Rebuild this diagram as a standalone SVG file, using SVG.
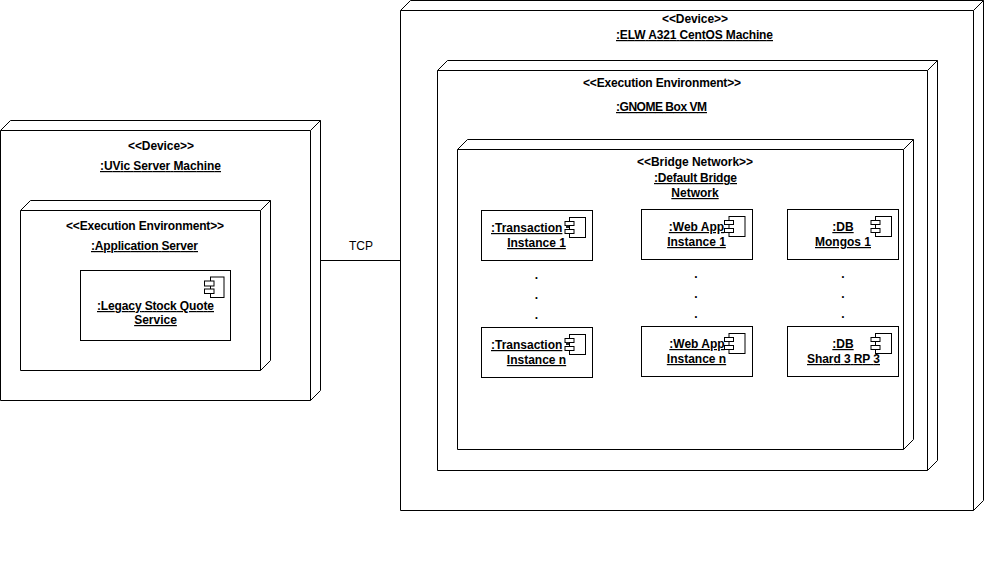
<svg xmlns="http://www.w3.org/2000/svg" xmlns:xlink="http://www.w3.org/1999/xlink" width="992" height="561" viewBox="0 0 992 561">
<style>
.s{fill:#fff;stroke:#000;stroke-width:1}
.l{fill:none;stroke:#000;stroke-width:1}
text{font-family:"Liberation Sans",Arial,sans-serif;font-size:12px;fill:#000;text-anchor:middle}
.b{font-weight:700}
.u{font-weight:700;text-decoration:underline}
.st{text-anchor:start}
</style>
<defs>
<g id="icon"><rect class="s" x="4.500" y="0" width="16" height="20"/><rect class="s" x="0" y="4" width="9" height="4"/><rect class="s" x="0" y="12" width="9" height="4"/></g>
<g id="icon-wide"><rect class="s" x="6" y="0" width="13.500" height="20.500"/><rect class="s" x="0" y="4" width="9.500" height="5"/><rect class="s" x="0" y="12" width="9.500" height="4.500"/></g>
</defs>
<rect width="992" height="561" fill="#fff"/>
<g id="connectors"><path class="l" d="M320.500 260.500H400.500"/><text x="361" y="250">TCP</text></g>
<g id="device-uvic">
<path class="s" d="M0.500 130.500L10.500 120.500H320.500V390.500L310.500 400.500H0.500Z"/><path class="l" d="M0.500 130.500H310.500V400.500M310.500 130.500L320.500 120.500"/>
<text class="b" x="161" y="150" textLength="66">&lt;&lt;Device&gt;&gt;</text><text class="u" x="160.500" y="170" textLength="121">:UVic Server Machine</text>
</g>
<g id="env-app">
<path class="s" d="M20.500 210.500L30.500 200.500H270.500V360.500L260.500 370.500H20.500Z"/><path class="l" d="M20.500 210.500H260.500V370.500M260.500 210.500L270.500 200.500"/>
<text class="b" x="145" y="230" textLength="158">&lt;&lt;Execution Environment&gt;&gt;</text><text class="u" x="144.500" y="250" textLength="107">:Application Server</text>
</g>
<g id="comp-legacy">
<rect class="s" x="80.500" y="270.500" width="150" height="70"/><use xlink:href="#icon-wide" x="204.500" y="277"/>
<text class="u" x="155.500" y="310" textLength="117">:Legacy Stock Quote</text><text class="u" x="155.500" y="324">Service</text>
</g>
<g id="device-elw">
<path class="s" d="M400.500 10.500L410.500 0.500H983.500V500.500L973.500 510.500H400.500Z"/><path class="l" d="M400.500 10.500H973.500V510.500M973.500 10.500L983.500 0.500"/>
<text class="b" x="695" y="23" textLength="66">&lt;&lt;Device&gt;&gt;</text><text class="u" x="694.500" y="39" textLength="157">:ELW A321 CentOS Machine</text>
</g>
<g id="env-gnome">
<path class="s" d="M437.500 70.500L447.500 60.500H937.500V460.500L927.500 470.500H437.500Z"/><path class="l" d="M437.500 70.500H927.500V470.500M927.500 70.500L937.500 60.500"/>
<text class="b" x="662" y="87" textLength="158">&lt;&lt;Execution Environment&gt;&gt;</text><text class="u" x="661.500" y="111" textLength="91">:GNOME Box VM</text>
</g>
<g id="bridge">
<path class="s" d="M457.500 149.500L467.500 139.500H913.500V439.500L903.500 449.500H457.500Z"/><path class="l" d="M457.500 149.500H903.500V449.500M903.500 149.500L913.500 139.500"/>
<text class="b" x="695" y="166" textLength="116">&lt;&lt;Bridge Network&gt;&gt;</text><text class="u" x="695.500" y="182" textLength="83">:Default Bridge</text><text class="u" x="695" y="197">Network</text>
<g class="b"><text x="536.500" y="279">.</text><text x="536.500" y="299">.</text><text x="536.500" y="319">.</text><text x="696" y="278">.</text><text x="696" y="298">.</text><text x="696" y="318">.</text><text x="843" y="278">.</text><text x="843" y="298">.</text><text x="843" y="318">.</text></g>
</g>
<g id="comp-tx1"><rect class="s" x="481.500" y="210.500" width="111" height="50"/><text class="u st" x="491" y="232">:Transaction</text><text class="u" x="536.500" y="247">Instance 1</text><use xlink:href="#icon" x="565" y="217.500"/><rect x="566" y="225" width="3" height="3" fill="#222"/></g>
<g id="comp-txn"><rect class="s" x="481.500" y="327.500" width="111" height="50"/><text class="u st" x="491" y="349">:Transaction</text><text class="u" x="536.500" y="364">Instance n</text><use xlink:href="#icon" x="565" y="334.500"/><rect x="566" y="342" width="3" height="3" fill="#222"/></g>
<g id="comp-web1"><rect class="s" x="641.500" y="209.500" width="111" height="50"/><text class="u" x="696.500" y="231">:Web App</text><text class="u" x="696.500" y="246">Instance 1</text><use xlink:href="#icon" x="724.500" y="216.500"/></g>
<g id="comp-webn"><rect class="s" x="641.500" y="326.500" width="111" height="50"/><text class="u" x="697" y="348">:Web App</text><text class="u" x="696.500" y="363">Instance n</text><use xlink:href="#icon" x="724.500" y="333.500"/></g>
<g id="comp-db1"><rect class="s" x="787.500" y="209.500" width="111" height="50"/><text class="u" x="843" y="231">:DB</text><text class="u" x="843" y="246">Mongos 1</text><use xlink:href="#icon" x="871" y="216.500"/></g>
<g id="comp-dbn"><rect class="s" x="787.500" y="326.500" width="111" height="50"/><text class="u" x="843" y="348">:DB</text><text class="u" x="843.500" y="363" textLength="73">Shard 3 RP 3</text><use xlink:href="#icon" x="871" y="333.500"/></g>
</svg>
